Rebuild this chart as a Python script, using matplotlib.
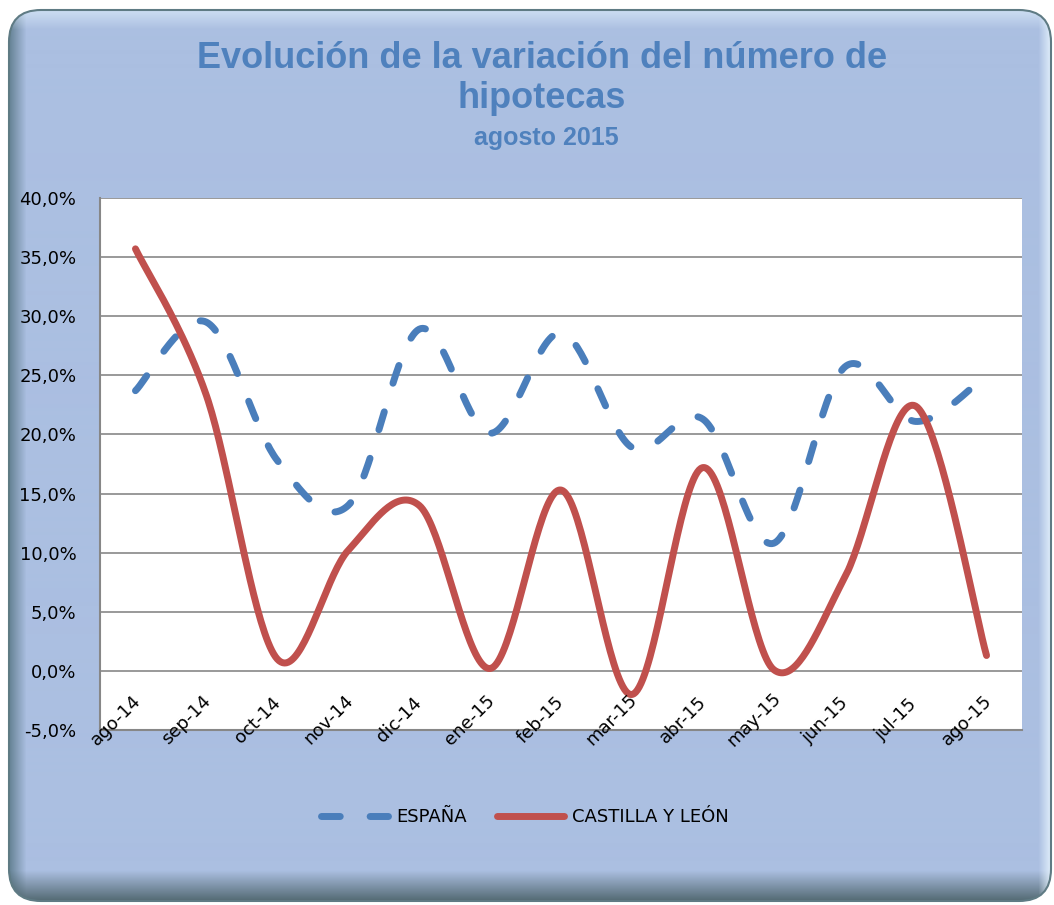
import numpy as np
import matplotlib
matplotlib.use('Agg')
import matplotlib.pyplot as plt
import matplotlib.transforms as mtransforms
from matplotlib.patches import FancyBboxPatch

meses = ['ago-14','sep-14','oct-14','nov-14','dic-14','ene-15','feb-15',
         'mar-15','abr-15','may-15','jun-15','jul-15','ago-15']
espana = [23.7, 29.5, 17.8, 14.0, 28.9, 20.1, 28.6, 18.9, 21.3, 10.8, 25.7, 21.1, 25.0]
cyl = [35.7, 23.3, 1.0, 10.2, 14.0, 0.2, 15.3, -2.0, 17.2, 0.1, 7.9, 22.4, 1.3]

titulo1 = 'Evolución de la variación del número de'
titulo2 = 'hipotecas'
subtitulo = 'agosto 2015'

azul = '#4a7ebb'
rojo = '#c0504d'
fondo = (171/255., 191/255., 225/255.)
titfont = ['Liberation Sans', 'DejaVu Sans']


def suavizar(xs, ys, n=40):
    # curva suavizada tipo excel (bezier con tangentes catmull-rom)
    P = np.column_stack([np.asarray(xs, float), np.asarray(ys, float)])
    out = []
    for i in range(len(P)-1):
        p0 = P[i-1] if i > 0 else P[i]
        p1 = P[i]
        p2 = P[i+1]
        p3 = P[i+2] if i+2 < len(P) else P[i+1]
        c1 = p1 + (p2-p0)/6.
        c2 = p2 - (p3-p1)/6.
        t = np.linspace(0, 1, n)[:, None]
        seg = (1-t)**3*p1 + 3*(1-t)**2*t*c1 + 3*(1-t)*t**2*c2 + t**3*p2
        out.append(seg if i == 0 else seg[1:])
    out = np.vstack(out)
    return out[:, 0], out[:, 1]


W, H = 1054, 905
fig = plt.figure(figsize=(W/100., H/100.), dpi=100)
fig.patch.set_facecolor('white')

# marco redondeado con bisel
bg = fig.add_axes([0, 0, 1, 1], zorder=-10)
bg.set_xlim(0, W)
bg.set_ylim(H, 0)
bg.axis('off')
img = np.ones((H, W, 3)) * np.array(fondo)
yy, xx = np.mgrid[0:H, 0:W]
def mezcla(peso, col):
    global img
    w = np.clip(peso, 0, 1)[..., None]
    img = img*(1-w) + np.array(col)*w
mezcla((26-xx)/16.*0.8, (0.35, 0.47, 0.53))
mezcla((yy-870)/30.*0.85, (0.27, 0.36, 0.38))
mezcla((30-yy)/20.*0.6, (0.90, 0.96, 1.0))
mezcla((xx-1038)/12.*0.8, (0.92, 0.97, 1.0))
im = bg.imshow(img, extent=(0, W, H, 0), interpolation='bilinear')
marco = FancyBboxPatch((9, 10), W-12, H-14, boxstyle='round,pad=0,rounding_size=32',
                       transform=bg.transData, facecolor='none', edgecolor='#5f7b84', lw=1.5)
bg.add_patch(marco)
im.set_clip_path(marco)

ax = fig.add_axes([100/W, 1-730/H, 922/W, 532/H])
ax.set_facecolor('white')
x = np.arange(len(meses))
xs, ys = suavizar(x, espana)
ax.plot(xs, ys, color=azul, lw=5, linestyle=(0, (2.7, 4.3)), dash_capstyle='round',
        label='ESPAÑA', zorder=3)
xs, ys = suavizar(x, cyl)
ax.plot(xs, ys, color=rojo, lw=5, solid_capstyle='round', label='CASTILLA Y LEÓN', zorder=4)

ax.set_xlim(-0.5, len(meses)-0.5)
ax.set_ylim(-5, 40)
yt = np.arange(-5, 41, 5)
ax.set_yticks(yt)
ax.set_yticklabels([('%.1f%%' % v).replace('.', ',') for v in yt])
ax.tick_params(axis='y', length=0, pad=17, labelsize=13)
ax.set_xticks(x)
ax.set_xticklabels([])
ax.tick_params(axis='x', length=0)
ax.grid(axis='y', color='#878787', lw=1.2)
ax.set_axisbelow(True)
for s in ['top', 'right']:
    ax.spines[s].set_visible(False)
for s in ['left', 'bottom']:
    ax.spines[s].set_color('#878787')
    ax.spines[s].set_linewidth(1.5)

off = mtransforms.ScaledTranslation(-20/100., 10/100., fig.dpi_scale_trans)
for i, m in enumerate(meses):
    ax.text(i, 0, m, transform=ax.get_xaxis_transform()+off, rotation=45,
            ha='center', va='center', fontsize=13, zorder=5)

fig.text(542/W, 1-58/H, titulo1, ha='center', va='center', color='#4f81bd',
         fontsize=26, fontweight='bold', family=titfont)
fig.text(542/W, 1-99/H, titulo2, ha='center', va='center', color='#4f81bd',
         fontsize=26, fontweight='bold', family=titfont)
fig.text(546/W, 1-138/H, subtitulo, ha='center', va='center', color='#4f81bd',
         fontsize=18, fontweight='bold', family=titfont)

leg = ax.legend(loc='center', bbox_to_anchor=(525/W, 1-817/H), bbox_transform=fig.transFigure,
                ncol=2, frameon=False, fontsize=13, handlelength=3.7, handletextpad=0.45,
                columnspacing=1.7)

fig.savefig('out.png', dpi=100, facecolor=fig.get_facecolor())
